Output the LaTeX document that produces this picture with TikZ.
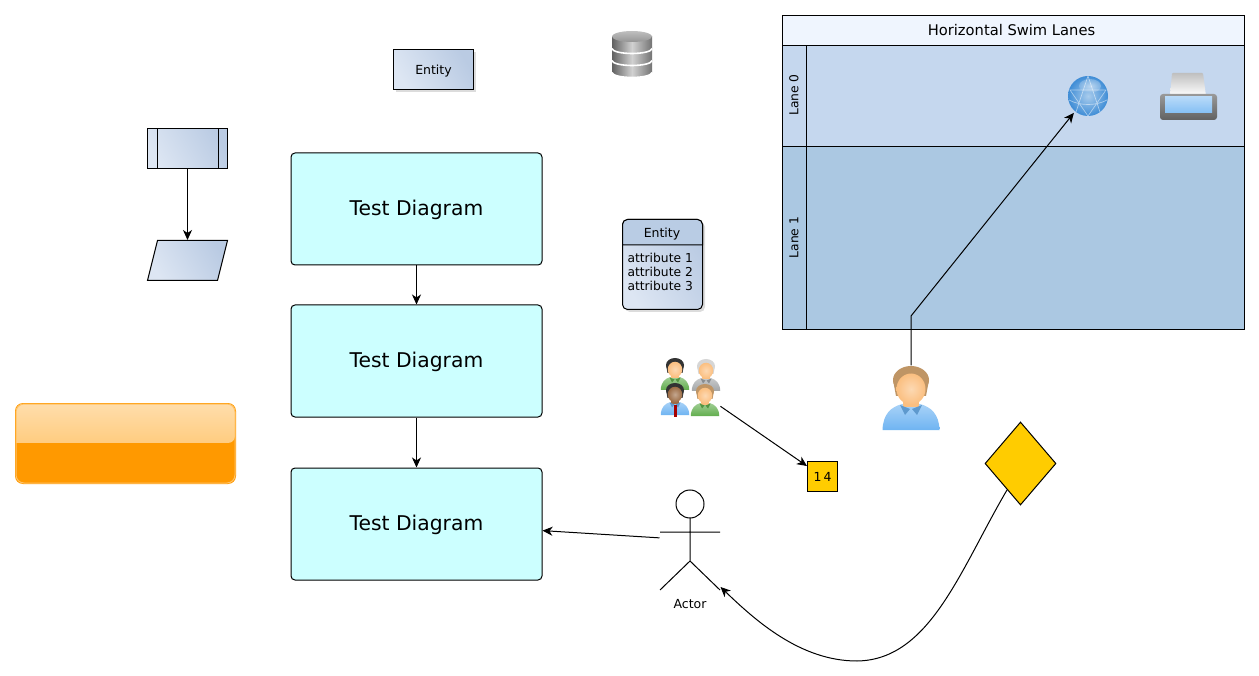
\documentclass[tikz,border=0pt]{standalone}
\usepackage{fontspec}
\setmainfont{DejaVu Sans}
\usetikzlibrary{arrows.meta, shapes, shadows}

\definecolor{testfill}{HTML}{CCFFFF}
\definecolor{gradlight}{HTML}{DDE6F3}
\definecolor{graddark}{HTML}{BACBE3}
\definecolor{headfill}{HTML}{B9CCE4}
\definecolor{poolhead}{HTML}{EFF5FE}
\definecolor{lanezero}{HTML}{C5D7EE}
\definecolor{laneone}{HTML}{ABC8E2}
\definecolor{gold}{HTML}{FFCC00}
\definecolor{glassorange}{HTML}{FF9900}
\definecolor{shirtgreen}{HTML}{62AE4E}
\definecolor{shirtblue}{HTML}{6FB4F2}
\definecolor{shirtgray}{HTML}{A3A6A8}
\definecolor{hairdark}{HTML}{333333}
\definecolor{hairgray}{HTML}{D6D6D6}
\definecolor{hairbrown}{HTML}{BF9565}
\definecolor{skin}{HTML}{FBBF80}
\definecolor{skindark}{HTML}{9C6C45}
\definecolor{globeblue}{HTML}{3F8DD6}

\tikzset{
  flow/.style={draw, -{Stealth[length=10pt, width=9pt, inset=3pt]}},
  testbox/.style={draw, rounded corners=4pt, fill=testfill, minimum width=251pt, minimum height=112pt, font=\fontsize{20.3}{24}\selectfont, text depth=2pt, inner sep=0pt},
  grad/.style={draw, left color=gradlight, right color=graddark, shading angle=120, inner sep=0pt},
  softshadow/.style={drop shadow={opacity=.28, shadow xshift=2.5pt, shadow yshift=-2.5pt}},
  small/.style={font=\fontsize{12.5}{14}\selectfont, text depth=0pt},
  lane/.style={draw, minimum width=438.5pt, inner sep=0pt},
  lanehead/.style={draw, minimum width=24pt, inner sep=0pt},
  lanetext/.style={rotate=90, font=\fontsize{12.3}{14}\selectfont},
  icon/.style={inner sep=0pt}
}

\newcommand{\personicon}[6]{
  \begin{scope}[shift={(#1,#2)}, scale=#3]
    \shade[top color=#6!60!white, bottom color=#6] (-28.5,64) .. controls (-28,48) and (-20,41) .. (-9,38) -- (9,38) .. controls (20,41) and (28,48) .. (28.5,64) -- cycle;
    \fill[#4] (0,14) ellipse (18pt and 14pt);
    \fill[#4] (-18,14) -- (-15,30) -- (15,30) -- (18,14) -- cycle;
    \fill[#5] (-8,30) rectangle (8,41);
    \shade[inner color=#5!60!white, outer color=#5] (0,23) ellipse (14.5pt and 15.5pt);
    \fill[#6!85!black] (-11,39) -- (-1,43) -- (-6,49) -- cycle (11,39) -- (1,43) -- (6,49) -- cycle;
  \end{scope}
}

\begin{document}
\begin{tikzpicture}[x=1pt, y=-1pt, line width=1pt]
\useasboundingbox (0,0) rectangle (1259,676);

\node[testbox] (T1) at (416.5,209) {Test Diagram\hspace{2pt}};
\node[testbox] (T2) at (416.5,361) {Test Diagram\hspace{2pt}};
\node[testbox] (T3) at (416.5,524) {Test Diagram\hspace{2pt}};

\node[grad, softshadow, small, minimum width=80pt, minimum height=40pt] (E1) at (433.5,69.5) {Entity};

\node[grad, minimum width=80pt, minimum height=40pt] (P) at (187.5,148.5) {};
\draw (157,128.5) -- (157,168.5);
\draw (218,128.5) -- (218,168.5);
\draw[grad] (147.5,280.5) -- (157.5,240.5) -- (227.5,240.5) -- (217.5,280.5) -- cycle;
\node[icon, minimum width=80pt, minimum height=40pt] (Q) at (187.5,260.5) {};

\fill[glassorange, rounded corners=8pt] (15,403) rectangle (236,484);
\shade[top color=glassorange!33!white, bottom color=glassorange!50!white, rounded corners=7pt] (16,443) -- (16,404) -- (235,404) -- (235,443) [sharp corners] -- cycle;
\fill[glassorange] (16,443) rectangle (235,478);
\draw[glassorange!60!white, rounded corners=8pt] (16,404) rectangle (235,483);
\node[icon, minimum width=221pt, minimum height=81pt] (G) at (125.5,443.5) {};

\node[grad, softshadow, rounded corners=5pt, minimum width=80pt, minimum height=90pt] (E2) at (662.5,264.5) {};
\draw[fill=headfill, rounded corners=5pt] (622.5,245) -- (622.5,219.5) -- (702.5,219.5) [sharp corners] -- (702.5,245) -- cycle;
\node[small] (E2T) at (662,232.5) {Entity};
\node[anchor=north west, align=left, inner sep=0pt, font=\fontsize{12.3}{14}\selectfont] (E2A) at (627,253) {attribute 1\\attribute 2\\attribute 3};

\foreach \y in {60,48,36} {
  \shade[left color=black!62, right color=black!55, middle color=black!18] (612,\y) -- (612,\y+12.5) arc[start angle=180, end angle=0, x radius=20, y radius=5] -- (652,\y) -- cycle;
  \draw[white, line width=1.6pt] (612,\y+12.5) arc[start angle=180, end angle=0, x radius=20, y radius=5];
}
\shade[top color=black!25, bottom color=black!42] (632,36.5) ellipse (20pt and 5.5pt);
\node[icon, minimum width=40pt, minimum height=48pt] (DB) at (632,55) {};

\node[draw, fill=poolhead, minimum width=462.5pt, minimum height=30pt, inner sep=0pt] (H) at (1013.5,30.5) {};
\node[font=\fontsize{14.7}{16}\selectfont] (HT) at (1011.5,30) {Horizontal Swim Lanes};
\node[lanehead, fill=lanezero, minimum height=101pt] (L0H) at (794,96) {};
\node[lanetext] (L0T) at (794,95) {Lane 0};
\node[lane, fill=lanezero, minimum height=101pt] (L0) at (1025.5,96) {};
\node[lanehead, fill=laneone, minimum height=183pt] (L1H) at (794,238) {};
\node[lanetext] (L1T) at (794,237.5) {Lane 1};
\node[lane, fill=laneone, minimum height=183pt] (L1) at (1025.5,238) {};

\node[circle, icon, outer sep=2pt, minimum size=40pt, inner color=globeblue!45!white, outer color=globeblue] (W) at (1088,96) {};
\shade[inner color=white!80!globeblue, outer color=globeblue!60!white, opacity=.7] (1090,86) ellipse (11pt and 7pt);
\draw[white, opacity=.5, line width=.7pt] (1070,90) -- (1088,116) -- (1106,90) -- cycle (1088,76) -- (1076,112) (1088,76) -- (1100,112) (1069,100) .. controls (1080,106) and (1096,106) .. (1107,100);
\shade[top color=black!25, bottom color=white, rounded corners=1pt] (1172,73) -- (1203,73) -- (1206,96) -- (1170,96) -- cycle;
\shade[top color=black!40, bottom color=black!62, rounded corners=3pt] (1160,120) -- (1160,94) -- (1217,94) -- (1217,120) -- cycle;
\shade[top color=shirtblue!50!white, bottom color=shirtblue!85!white] (1165,97) rectangle (1212,113);
\node[icon, minimum width=57pt, minimum height=47pt] (PR) at (1188.5,96.5) {};

\personicon{675}{358}{.5}{hairdark}{skin}{shirtgreen}
\personicon{706}{359}{.5}{hairgray}{skin}{shirtgray}
\personicon{675}{383}{.5}{hairdark}{skindark}{shirtblue}
\fill[red!65!black] (673.5,405) -- (676.5,405) -- (676.5,417) -- (673.5,417) -- cycle;
\personicon{705}{384}{.5}{hairbrown}{skin}{shirtgreen}
\node[icon, minimum width=60pt, minimum height=60pt] (U) at (690,388) {};

\personicon{911}{366}{1}{hairbrown}{skin}{shirtblue}
\node[icon, minimum width=57pt, minimum height=64pt] (A) at (911,398) {};

\node[draw, fill=gold, minimum size=30pt, inner sep=0pt, font=\fontsize{12.5}{14}\selectfont] (N) at (822.5,476.5) {1\kern2pt 4};
\node[diamond, draw, fill=gold, minimum width=71pt, minimum height=83pt, inner sep=0pt] (D) at (1020.5,463.5) {};

\node[icon, minimum width=60pt, minimum height=100pt] (S) at (690,540) {};
\draw (690,504) circle (14pt);
\draw (690,518) -- (690,561) (660,532) -- (720,532) (660,590) -- (690,561) -- (720,590);
\node[small] (ST) at (690,604) {Actor};

\coordinate (B) at (911,316);
\coordinate (C) at (857,661);

\draw[flow] (P) -- (Q);
\draw[flow] (T1) -- (T2);
\draw[flow] (T2) -- (T3);
\draw[flow] (S.176) -- (T3.-3);
\draw[flow] (U.-31) -- (N.146);
\draw[flow] (A.north) -- (B) -- (W.230);
\draw[flow] (D.-117) .. controls (960,570) and (930,660) .. (C) .. controls (800,661) and (755,620) .. (S.-57);
\end{tikzpicture}
\end{document}
